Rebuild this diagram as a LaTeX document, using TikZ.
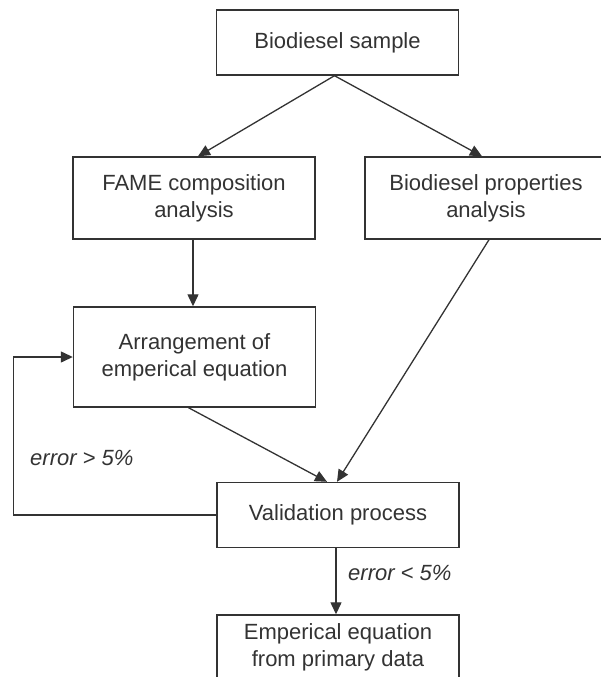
\documentclass[tikz,border=0pt]{standalone}
\usepackage{fontspec}
\setmainfont{Liberation Sans}
\usetikzlibrary{arrows.meta}
\definecolor{ink}{HTML}{333333}
\begin{document}
\begin{tikzpicture}[x=1pt,y=-1pt,
  box/.style={draw=ink, line width=1.4pt, fill=white, text=ink, align=center,
    inner sep=0pt, minimum width=242pt, font=\fontsize{22}{27}\selectfont},
  conn/.style={draw=ink, line width=1.3pt, -{Triangle[length=12pt,width=11pt]}},
  lbl/.style={text=ink, inner sep=0pt, anchor=west, font=\fontsize{22}{27}\selectfont\itshape}]
\useasboundingbox (0,0) rectangle (601,677);
\clip (0,0) rectangle (601,677);
\node[box, minimum height=65pt] (top) at (337.5,42.5) {Biodiesel sample};
\node[box, minimum height=82pt] (fame) at (194,198) {FAME composition\\analysis};
\node[box, minimum height=82pt] (props) at (486,198) {Biodiesel properties\\analysis};
\node[box, minimum height=100pt] (arr) at (194.5,357) {Arrangement of\\emperical equation};
\node[box, minimum height=65pt] (val) at (338,515) {Validation process};
\node[box, minimum height=64pt] (final) at (338,647) {Emperical equation\\from primary data};
\node[lbl] (lgt) at (30,458) {error > 5\%};
\node[lbl] (llt) at (348,573) {error < 5\%};
\draw[conn] ([xshift=-3pt]top.south) -- ([xshift=4pt]fame.north);
\draw[conn] ([xshift=-3pt]top.south) -- ([xshift=-4pt]props.north);
\draw[conn] ([xshift=-1pt]fame.south) -- ([xshift=-1.5pt]arr.north);
\draw[conn] ([xshift=-6pt]arr.south) -- ([xshift=-11pt]val.north);
\draw[conn] ([xshift=3pt]props.south) -- ([xshift=-1pt]val.north);
\draw[conn] (val.west) -- ++(-203,0) |- (arr.west);
\draw[conn] ([xshift=-2pt]val.south) -- ([xshift=-2pt]final.north);
\end{tikzpicture}
\end{document}
